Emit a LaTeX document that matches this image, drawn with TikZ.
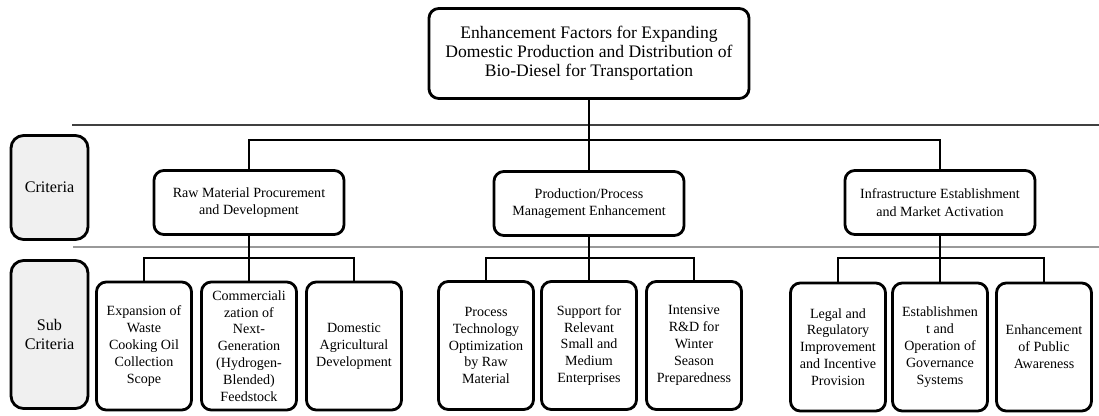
\documentclass[tikz,border=0pt]{standalone}
\usepackage{fontspec}
\setmainfont{Liberation Serif}

\begin{document}
\begin{tikzpicture}[x=0.025cm, y=-0.025cm,
  box/.style={draw, line width=2pt, rounded corners=7pt, align=center, inner sep=0pt, fill=white},
  goalbox/.style={box, minimum width=8cm, minimum height=2.25cm, font=\fontsize{12.5}{13.5}\selectfont},
  critbox/.style={box, minimum width=4.75cm, minimum height=1.6cm, font=\fontsize{10}{12.5}\selectfont},
  subbox/.style={box, minimum width=2.375cm, minimum height=3.2cm, font=\fontsize{10}{12}\selectfont},
  levelbox/.style={box, rounded corners=9pt, fill=black!6, minimum width=1.925cm, font=\fontsize{11.5}{14}\selectfont},
  conn/.style={line width=2.1pt},
  sepline/.style={line width=0.8pt, black!75},
  sepgray/.style={line width=1.6pt, black!40}]
\useasboundingbox (0,0) rectangle (1099,415);
\draw[sepline] (72,125) -- (1099,125);
\draw[sepgray] (73,247) -- (1099,247);
\node[goalbox] (goal) at (589,53.5) {Enhancement Factors for Expanding\\Domestic Production and Distribution of\\Bio-Diesel for Transportation};
\node[levelbox, minimum height=2.6cm] (critlab) at (49.5,187.5) {Criteria};
\node[levelbox, minimum height=3.7cm] (sublab) at (49.5,334.5) {Sub\\Criteria};
\node[critbox] (c1) at (249,202.5) {Raw Material Procurement\\and Development};
\node[critbox] (c2) at (589,203.5) {Production/Process\\Management Enhancement};
\node[critbox] (c3) at (940,202.5) {Infrastructure Establishment\\and Market Activation};
\node[subbox] (s11) at (144,346) {Expansion of\\Waste\\Cooking Oil\\Collection\\Scope};
\node[subbox] (s12) at (249,346) {Commerciali\\zation of\\Next-\\Generation\\(Hydrogen-\\Blended)\\Feedstock};
\node[subbox] (s13) at (354,346) {Domestic\\Agricultural\\Development};
\node[subbox] (s21) at (486,345.5) {Process\\Technology\\Optimization\\by Raw\\Material};
\node[subbox] (s22) at (589,345.5) {Support for\\Relevant\\Small and\\Medium\\Enterprises};
\node[subbox] (s23) at (694,345.5) {Intensive\\R\&D for\\Winter\\Season\\Preparedness};
\node[subbox] (s31) at (838,347) {Legal and\\Regulatory\\Improvement\\and Incentive\\Provision};
\node[subbox] (s32) at (940,347) {Establishmen\\t and\\Operation of\\Governance\\Systems};
\node[subbox] (s33) at (1044,347) {Enhancement\\of Public\\Awareness};
\draw[conn] (c1.north) |- (goal.south |- 0,140) -| (c3.north);
\draw[conn] (goal.south) -- (c2.north);
\draw[conn] (s11.north) |- (c1.south |- 0,258) -| (s13.north);
\draw[conn] (c1.south) -- (s12.north);
\draw[conn] (s21.north) |- (c2.south |- 0,258) -| (s23.north);
\draw[conn] (c2.south) -- (s22.north);
\draw[conn] (s31.north) |- (c3.south |- 0,258) -| (s33.north);
\draw[conn] (c3.south) -- (s32.north);
\end{tikzpicture}
\end{document}
